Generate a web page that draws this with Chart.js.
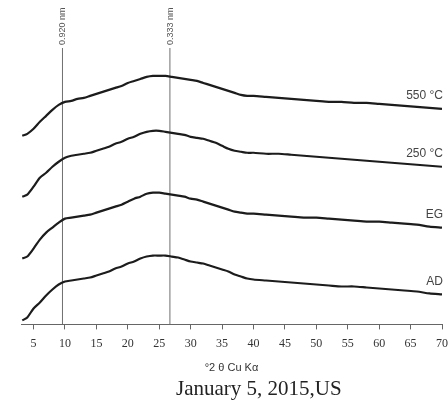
<!DOCTYPE html>
<html>
<head>
<meta charset="utf-8">
<script src="https://cdn.jsdelivr.net/npm/chart.js@4.4.1/dist/chart.umd.min.js"></script>
<style>
  html, body { margin: 0; padding: 0; background: #fff; }
  #wrap { position: relative; width: 448px; height: 406px; }
  #date { position: absolute; left: 176px; top: 376px; font: 21px "Liberation Serif", "Times New Roman", serif; color: #222; white-space: nowrap; }
</style>
</head>
<body>
<div id="wrap">
  <canvas id="chart" width="448" height="406"></canvas>
  <div id="date">January 5, 2015,US</div>
</div>
<script>
const twoTheta = [3.2, 4, 5, 6, 7, 8, 9, 10, 11, 12, 13, 14, 15, 16, 17, 18, 19, 20, 21, 22, 23, 24, 25, 26, 27, 28, 29, 30,
  31, 32, 33, 34, 35, 36, 37, 38, 39, 40, 42, 44, 46, 48, 50, 52, 54, 56, 58, 60, 62, 64, 66, 68, 70];

const ad = [4, 7, 16, 22, 29, 35, 40, 43, 44, 45, 46, 47, 49, 51, 53, 56, 58, 61, 63, 66, 68, 69, 69, 69, 68, 67, 65, 63,
  62, 61, 59, 57, 55, 53, 50, 48, 46, 45, 44, 43, 42, 41, 40, 39, 38, 38, 37, 36, 35, 34, 33, 31, 30];
const eg = [66, 68, 76, 85, 92, 97, 102, 106, 107, 108, 109, 110, 112, 114, 116, 118, 120, 123, 126, 128, 131, 132, 132, 131, 130, 129, 128, 126,
  125, 123, 121, 119, 117, 115, 113, 112, 111, 111, 110, 109, 108, 107, 107, 106, 105, 104, 103, 103, 102, 101, 100, 98, 97];
const c250 = [128, 130, 138, 147, 152, 158, 163, 167, 169, 170, 171, 172, 174, 176, 178, 181, 183, 186, 188, 191, 193, 194, 194, 193, 192, 191, 190, 188,
  187, 186, 184, 182, 179, 176, 174, 173, 172, 172, 171, 171, 170, 169, 168, 167, 166, 165, 164, 163, 162, 161, 160, 159, 158];
const c550 = [189, 191, 196, 203, 209, 215, 220, 223, 224, 226, 227, 229, 231, 233, 235, 237, 239, 242, 244, 246, 248, 249, 249, 249, 248, 247, 246, 245,
  244, 242, 240, 238, 236, 234, 232, 230, 229, 229, 228, 227, 226, 225, 224, 223, 223, 222, 222, 221, 220, 219, 218, 217, 216];

const seriesNames = ["AD", "EG", "250 °C", "550 °C"];
const seriesValues = [ad, eg, c250, c550];

const refLines = [9.6, 26.7];
const refLabels = ["0.920 nm", "0.333 nm"];

const xTicks = [5, 10, 15, 20, 25, 30, 35, 40, 45, 50, 55, 60, 65, 70];
const yMax = 277;

const datasets = seriesValues.map((vals, i) => ({
  label: seriesNames[i],
  data: twoTheta.map((x, j) => ({ x: x, y: vals[j] })),
  borderColor: "#1c1c1c",
  borderWidth: 2.2,
  pointRadius: 0,
  tension: 0.25
}));

refLines.forEach((x, i) => {
  datasets.push({
    label: refLabels[i],
    data: [{ x: x, y: 0 }, { x: x, y: yMax }],
    borderColor: "#707070",
    borderWidth: 1,
    pointRadius: 0
  });
});

const labelPlugin = {
  id: "labels",
  afterDatasetsDraw(chart) {
    const c = chart.ctx;
    const xs = chart.scales.x, ys = chart.scales.y;
    c.save();
    c.fillStyle = "#444";
    c.font = '12px "Liberation Sans", Arial, sans-serif';
    c.textAlign = "right";
    c.textBaseline = "middle";
    seriesValues.forEach((vals, i) => {
      c.fillText(seriesNames[i], xs.right + 1, ys.getPixelForValue(vals[vals.length - 1]) - 13);
    });
    c.font = '9px "Liberation Sans", Arial, sans-serif';
    c.fillStyle = "#555";
    refLines.forEach((x, i) => {
      c.save();
      c.translate(xs.getPixelForValue(x) + 3, ys.top - 3);
      c.rotate(-Math.PI / 2);
      c.textAlign = "left";
      c.textBaseline = "alphabetic";
      c.fillText(refLabels[i], 0, 0);
      c.restore();
    });
    c.restore();
  }
};

new Chart(document.getElementById("chart"), {
  type: "line",
  data: { datasets: datasets },
  plugins: [labelPlugin],
  options: {
    responsive: false,
    animation: false,
    layout: { padding: { left: 21, right: 6, top: 48, bottom: 31 } },
    plugins: { legend: { display: false }, tooltip: { enabled: false } },
    scales: {
      x: {
        type: "linear",
        min: 3,
        max: 70,
        afterBuildTicks: s => { s.ticks = xTicks.map(v => ({ value: v })); },
        afterFit: s => { s.paddingLeft = 0; s.paddingRight = 0; },
        grid: { drawOnChartArea: false, drawTicks: true, tickLength: 5, color: "#666" },
        border: { color: "#666", width: 1 },
        ticks: {
          color: "#333",
          padding: 7,
          maxRotation: 0,
          font: { family: '"Liberation Serif", "Times New Roman", serif', size: 12 }
        },
        title: {
          display: true,
          text: "°2 θ Cu Kα",
          color: "#333",
          padding: { top: 4, bottom: 0 },
          font: { family: '"Liberation Sans", Arial, sans-serif', size: 11 }
        }
      },
      y: { display: false, min: 0, max: yMax }
    }
  }
});
</script>
</body>
</html>
